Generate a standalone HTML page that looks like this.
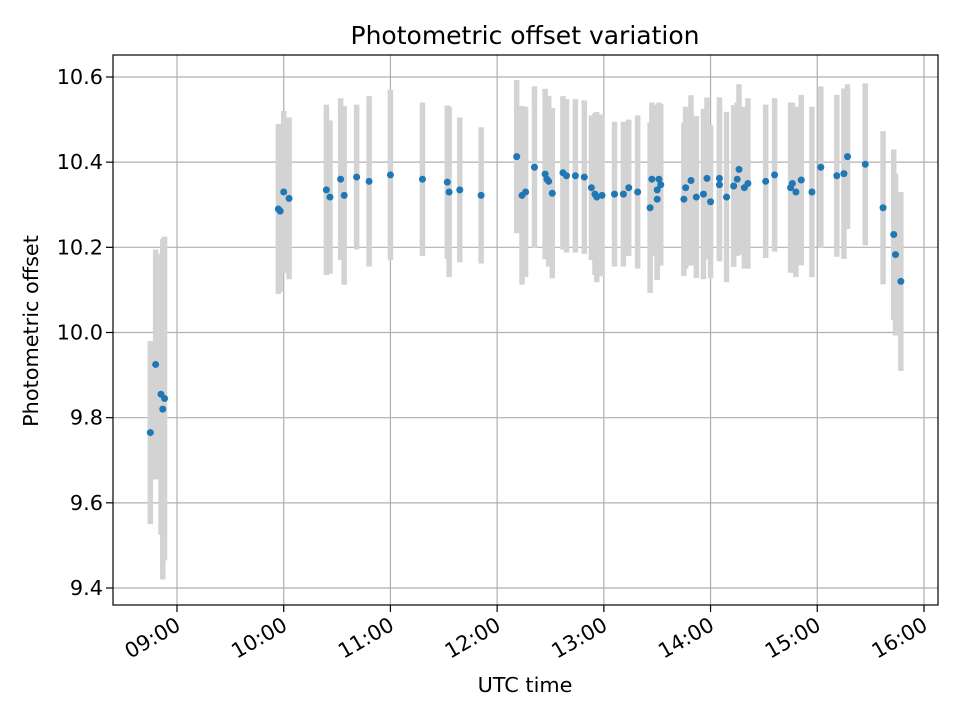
<!DOCTYPE html>
<html><head><meta charset="utf-8"><style>
body{margin:0;background:#fff;}
svg{display:block;font-family:"DejaVu Sans","Liberation Sans",sans-serif;}
</style></head><body>
<svg id="chart" width="960" height="720">
<rect x="0" y="0" width="960" height="720" fill="#fff"/>
<g id="grid"></g>
<g id="errs"></g>
<g id="pts"></g>
<rect x="113" y="55" width="825" height="550" fill="none" stroke="#000" stroke-width="1.2"/>
<g id="axes"></g>
<text x="525" y="44" text-anchor="middle" font-size="25">Photometric offset variation</text>
<text x="525" y="692" text-anchor="middle" font-size="20.8">UTC time</text>
<text transform="translate(38,331) rotate(-90)" text-anchor="middle" font-size="20.8">Photometric offset</text>
</svg>
<script>
// minutes after 09:00 UTC
const minutes=[-15,-12,-9,-8,-7,57,58,60,63,84,86,92,94,101,108,120,138,152,153,159,171,191,194,196,201,207,208,209,211,217,219,224,229,233,235,236,239,246,251,254,259,266,267,270,270,271,272,285,286,289,292,296,298,300,305,305,309,313,315,316,319,321,331,336,345,346,348,351,357,362,371,375,377,387,397,403,404,407];
const offsets=[9.765,9.925,9.855,9.82,9.845,10.29,10.285,10.33,10.315,10.335,10.318,10.36,10.322,10.365,10.355,10.37,10.36,10.353,10.33,10.335,10.322,10.413,10.322,10.33,10.388,10.372,10.36,10.355,10.327,10.375,10.368,10.368,10.365,10.34,10.325,10.318,10.322,10.325,10.325,10.34,10.33,10.293,10.36,10.335,10.313,10.36,10.347,10.313,10.34,10.357,10.318,10.325,10.362,10.307,10.362,10.347,10.318,10.344,10.36,10.383,10.34,10.35,10.355,10.37,10.34,10.35,10.33,10.358,10.33,10.388,10.368,10.373,10.413,10.395,10.293,10.23,10.183,10.12];
const errors=[0.215,0.27,0.33,0.4,0.38,0.2,0.19,0.19,0.19,0.2,0.18,0.19,0.21,0.17,0.2,0.2,0.18,0.18,0.2,0.17,0.16,0.18,0.21,0.2,0.19,0.2,0.18,0.2,0.2,0.18,0.18,0.18,0.18,0.17,0.19,0.2,0.19,0.17,0.17,0.16,0.18,0.2,0.18,0.2,0.19,0.18,0.19,0.18,0.19,0.2,0.19,0.2,0.19,0.18,0.19,0.18,0.2,0.19,0.18,0.2,0.19,0.2,0.18,0.18,0.2,0.19,0.2,0.2,0.2,0.19,0.19,0.2,0.17,0.19,0.18,0.2,0.19,0.21];
const yTicks=[9.4,9.6,9.8,10.0,10.2,10.4,10.6];
const xTickLabels=["09:00","10:00","11:00","12:00","13:00","14:00","15:00","16:00"];
const xTickMinutes=[0,60,120,180,240,300,360,420];

const NS="http://www.w3.org/2000/svg";
const X=m=>177+m/60*106.71;
const Y=v=>332.5-(v-10)/0.2*85.17;
function mk(tag,attrs,parent){const e=document.createElementNS(NS,tag);for(const k in attrs)e.setAttribute(k,attrs[k]);parent.appendChild(e);return e;}
const grid=document.getElementById('grid'),axes=document.getElementById('axes'),errs=document.getElementById('errs'),pts=document.getElementById('pts');

yTicks.forEach(v=>{
  const y=Y(v);
  const g=mk('line',{x1:113,x2:938,y1:y,y2:y,stroke:'#b0b0b0','stroke-width':1.2},grid);
  
  
  const t=mk('line',{x1:106,x2:113,y1:y,y2:y,stroke:'#000','stroke-width':1.2},axes);
  
  
  const l=mk('text',{x:103,y:y+7,'text-anchor':'end','font-size':20.8},axes);
  l.textContent=v.toFixed(1);
  
  
});
xTickMinutes.forEach((m,i)=>{
  const x=X(m);
  const g=mk('line',{x1:x,x2:x,y1:55,y2:605,stroke:'#b0b0b0','stroke-width':1.2},grid);
  
  
  const t=mk('line',{x1:x,x2:x,y1:605,y2:612,stroke:'#000','stroke-width':1.2},axes);
  
  
  const l=mk('text',{transform:`translate(${x+5},${629}) rotate(-30)`,'text-anchor':'end','font-size':20.8},axes);
  l.textContent=xTickLabels[i];
  
  
});
minutes.forEach((m,i)=>{
  const x=X(m);
  const e=mk('line',{x1:x,x2:x,y1:Y(offsets[i]+errors[i]),y2:Y(offsets[i]-errors[i]),stroke:'#d3d3d3','stroke-width':5.5},errs);
  
  
});
minutes.forEach((m,i)=>{
  const c=mk('circle',{cx:X(m),cy:Y(offsets[i]),r:3.5,fill:'#1f77b4'},pts);
  
  
});
</script>
</body></html>
